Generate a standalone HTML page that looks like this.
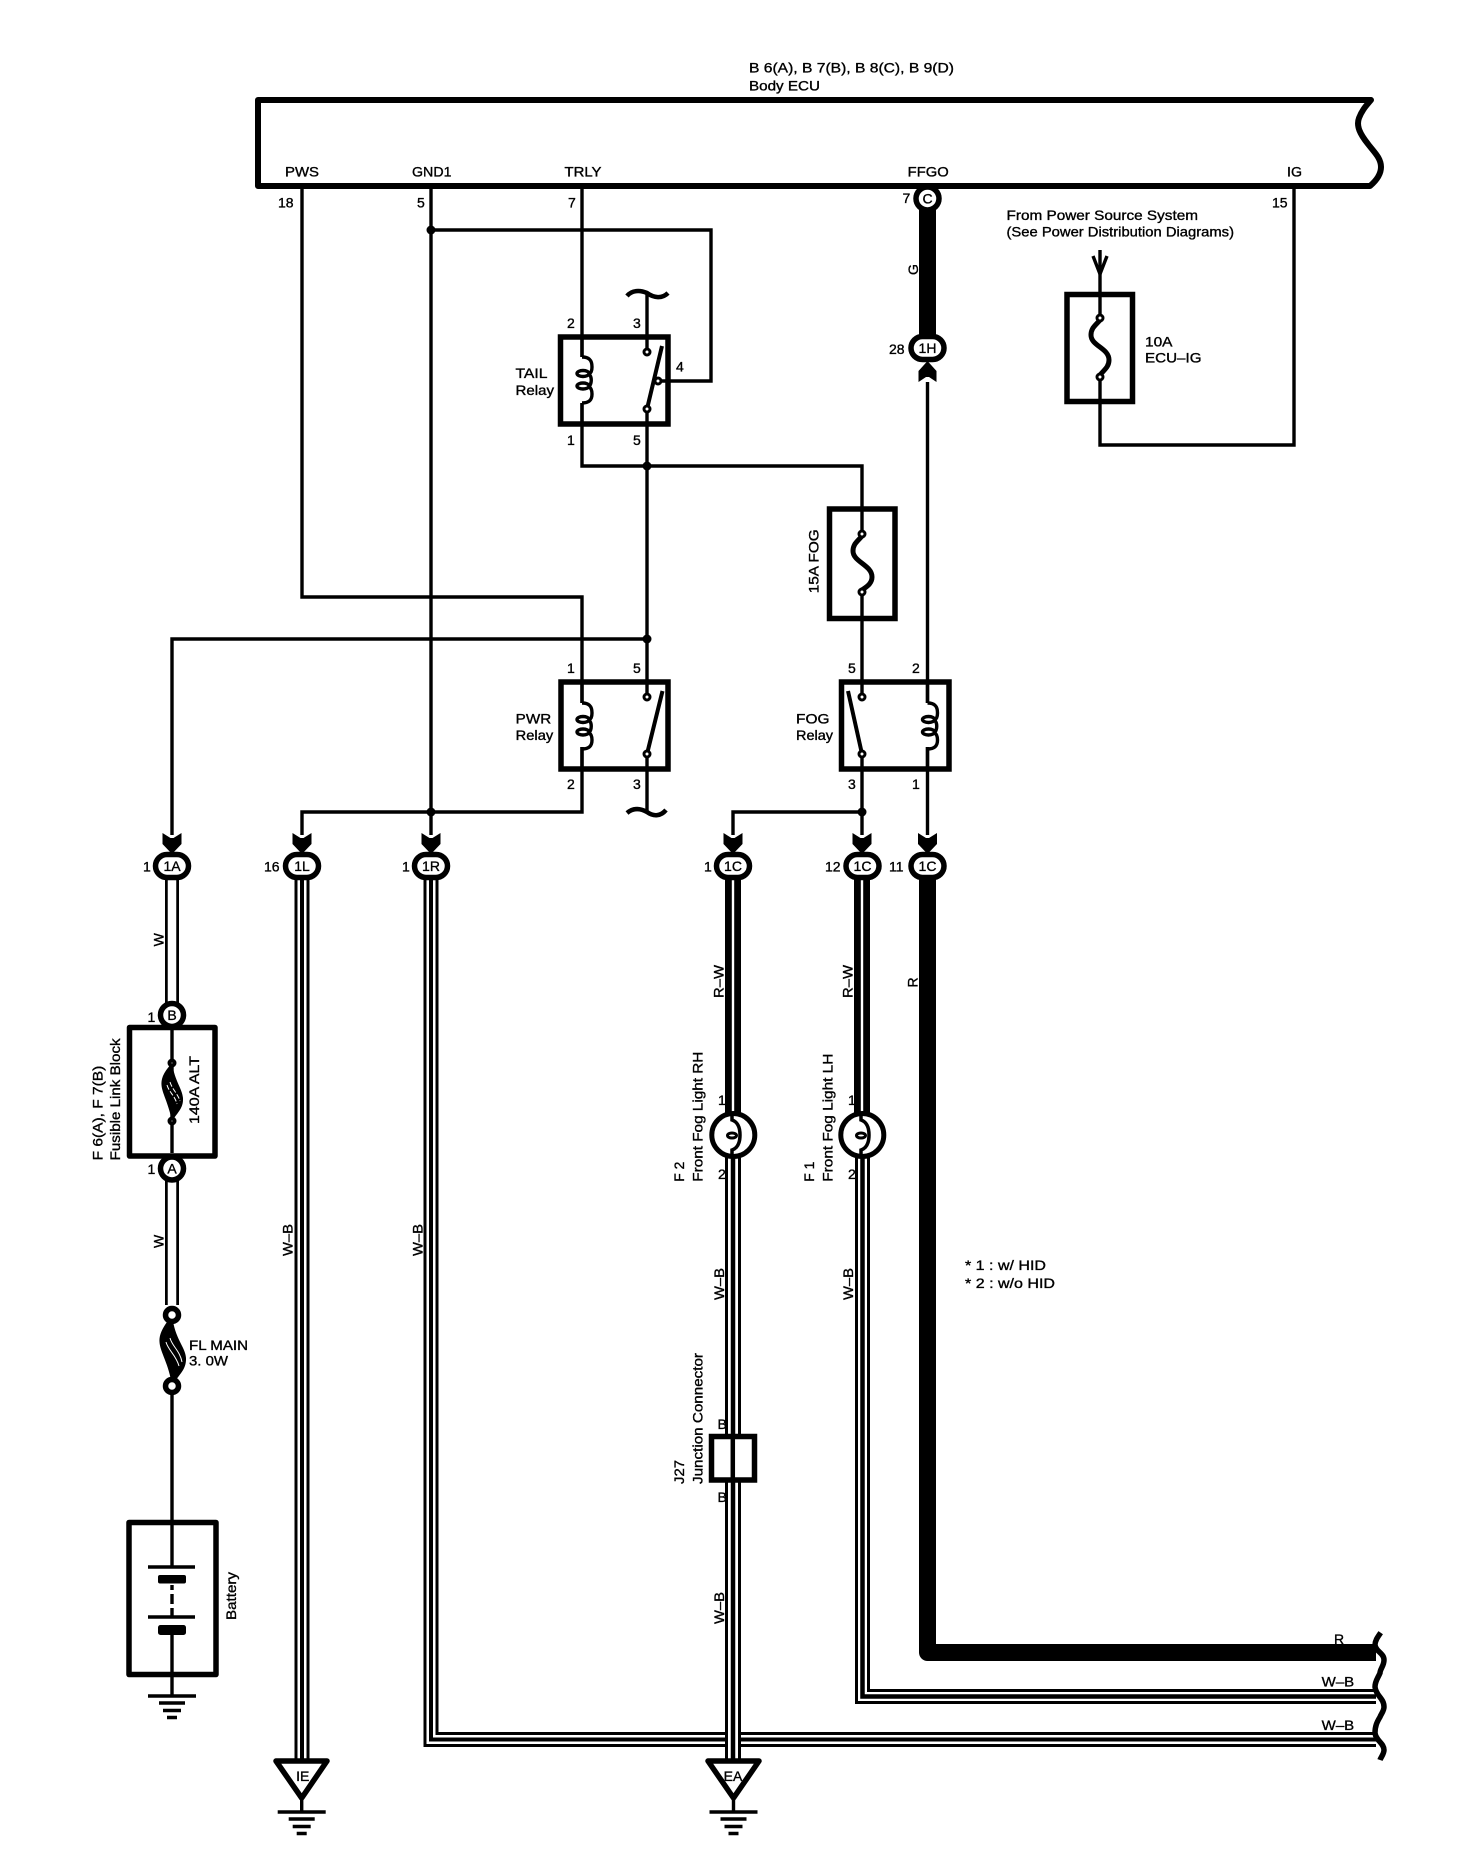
<!DOCTYPE html>
<html><head><meta charset="utf-8"><title>Fog light wiring diagram</title>
<style>
html,body{margin:0;padding:0;background:#fff}
svg{display:block}
text{font-family:"Liberation Sans",Arial,sans-serif;font-size:14px;fill:#000;stroke:#000;stroke-width:.35}
.w{fill:none;stroke:#000;stroke-width:3.4}
.b{fill:#fff;stroke:#000;stroke-width:5.5;stroke-linejoin:round}
</style></head><body>
<svg xmlns="http://www.w3.org/2000/svg" width="1472" height="1862" viewBox="0 0 1472 1862">
<defs>
<g id="coil"><path d="M0 0c8 0 10 4 10 10c0 4-1 6-3 7c3 3 3 9 0 13c2 1 3 3 3 7c0 6-3 9-10 9" fill="none" stroke="#000" stroke-width="3.4"/><ellipse cx="1" cy="16.5" rx="6" ry="3" fill="#fff" stroke="#000" stroke-width="3.4"/><ellipse cx="1" cy="29" rx="6" ry="3" fill="#fff" stroke="#000" stroke-width="3.4"/></g>
<circle id="ct" r="3" fill="#fff" stroke="#000" stroke-width="3"/>
<circle id="jn" r="4.5" fill="#000"/>
<path id="arr" d="M-9.500 -20L-1.500 -15H1.500L9.500 -20V-9L0 1L-9.500 -9Z" fill="#000"/>
<rect id="conn" x="-16.500" y="-11.500" width="33" height="23" rx="11.500" fill="#fff" stroke="#000" stroke-width="5.500"/>
<g id="gnd" stroke="#000" stroke-width="3.5"><path d="M-24 0H24M-13 7H13M-9 14.500H9M-5 21.500H5"/></g>
</defs>

<!-- ECU -->
<path d="M1371 100H258V186H1370C1377 180 1381 174 1381 167C1381 158 1374 152 1368 144C1360 134 1356 126 1359 118C1362 110 1366 106 1371 100Z" fill="#fff" stroke="#000" stroke-width="6" stroke-linejoin="round"/>

<!-- thin wires -->
<path class="w" d="M302 186V597H582V703M582 747V812H302V835"/>
<path class="w" d="M431 186V835"/>
<path class="w" d="M431 230H711V381H659"/>
<path class="w" d="M582 186V357M582 403V466H862V534M862 592V697"/>
<path class="w" d="M647 293V352M647 409V697M647 639H172V835"/>
<path class="w" d="M647 754V812"/>
<path class="w" d="M862 754V835M862 812H733V835"/>
<path class="w" d="M927.500 382V703M927.500 747V835"/>
<path class="w" d="M1100 250V318M1100 377V445H1294V186"/>
<path class="w" d="M1093 256L1100 274L1107 256"/>
<path d="M627 296C632 290 640 290 647 293C654 298 662 299 668 293" fill="none" stroke="#000" stroke-width="4.500"/>
<path d="M627 813C633 808 640 808 647 812C654 817 661 816 666 810" fill="none" stroke="#000" stroke-width="4.500"/>

<!-- relays -->
<rect x="560.500" y="337" width="107.500" height="87" fill="none" stroke="#000" stroke-width="5.500"/>
<rect x="561" y="682" width="107" height="87" fill="none" stroke="#000" stroke-width="5.500"/>
<rect x="841.500" y="682" width="107.500" height="87" fill="none" stroke="#000" stroke-width="5.500"/>
<path class="w" d="M582 337V357M582 403V424M582 682V703M582 747V769M927.500 682V703M927.500 747V769"/>
<use href="#coil" x="582" y="357"/><use href="#coil" x="582" y="703"/><use href="#coil" x="927.500" y="703"/>
<path d="M647 409L662 346M647 754L662.500 691M862 754L848 691" stroke="#000" stroke-width="4" fill="none"/>
<use href="#ct" x="647" y="352"/><use href="#ct" x="647" y="409"/><use href="#ct" x="658" y="381"/>
<use href="#ct" x="647" y="697"/><use href="#ct" x="647" y="754"/>
<use href="#ct" x="862" y="697"/><use href="#ct" x="862" y="754"/>

<!-- junctions -->
<use href="#jn" x="431" y="230"/><use href="#jn" x="647" y="466"/><use href="#jn" x="647" y="639"/>
<use href="#jn" x="431" y="812"/><use href="#jn" x="862" y="812"/>

<!-- fuses -->
<rect x="1067" y="294.500" width="65.500" height="107" fill="none" stroke="#000" stroke-width="5.500"/>
<path d="M1100 320C1095 326 1091 328 1091 335C1091 346 1109 348 1109 360C1109 367 1104 370 1100 375" fill="none" stroke="#000" stroke-width="5"/>
<use href="#ct" x="1100" y="318"/><use href="#ct" x="1100" y="377"/>
<rect x="829.500" y="509" width="65.500" height="109.500" fill="none" stroke="#000" stroke-width="5.500"/>
<path d="M862 536C857 542 853 544 853 551C853 562 872 565 872 577C872 584 866 587 862 590" fill="none" stroke="#000" stroke-width="5"/>
<use href="#ct" x="862" y="534"/><use href="#ct" x="862" y="592"/>

<!-- thick G wire -->
<rect x="919" y="198" width="17" height="150" fill="#000"/>
<path d="M918.500 382V371L927.500 361L936.500 371V382L929 377H926Z" fill="#000"/>

<!-- arrows -->
<use href="#arr" x="172" y="853"/><use href="#arr" x="302" y="853"/><use href="#arr" x="431" y="853"/>
<use href="#arr" x="733" y="853"/><use href="#arr" x="862" y="853"/><use href="#arr" x="927.500" y="853"/>

<!-- labels sitting behind wires -->
<text x="718" y="1105">1</text><text x="718" y="1179">2</text>
<text x="848" y="1105">1</text><text x="848" y="1179">2</text>
<text x="717.500" y="1429">B</text><text x="717.500" y="1502">B</text>

<!-- white wire W -->
<path d="M172 875V1305" stroke="#000" stroke-width="14" fill="none"/>
<path d="M172 875V1305" stroke="#fff" stroke-width="8.500" fill="none"/>
<rect x="129.500" y="1027.500" width="85.500" height="128.500" class="b"/>
<path d="M172 1030V1153" class="w"/>
<path d="M172 1063C166 1070 161 1076 161.500 1085C162 1093 168 1102 172 1121C178 1112 183.500 1108 183 1098C182 1088 175 1082 172 1063Z" fill="#000"/>
<path d="M167 1085C169 1092 175 1096 177 1104" fill="none" stroke="#fff" stroke-width="1" stroke-dasharray="5 2"/>
<path d="M170 1082C172 1089 178 1094 180 1101" fill="none" stroke="#fff" stroke-width="1" stroke-dasharray="5 2"/>
<circle cx="172" cy="1063" r="2.500" fill="#fff" stroke="#000" stroke-width="4"/>
<circle cx="172" cy="1121" r="2.500" fill="#fff" stroke="#000" stroke-width="4"/>
<circle cx="172" cy="1015" r="11.500" fill="#fff" stroke="#000" stroke-width="5.500"/>
<circle cx="172" cy="1168.500" r="11.500" fill="#fff" stroke="#000" stroke-width="5.500"/>

<!-- FL main -->
<path d="M172 1315C165 1325 159 1332 159.500 1342C160 1352 169 1364 172 1386C179 1374 186.500 1370 186 1358C185 1346 175 1340 172 1315Z" fill="#000"/>
<path d="M166 1342C168 1350 176 1355 179 1366" fill="none" stroke="#fff" stroke-width="1"/>
<path d="M170 1338C172 1346 180 1351 182 1362" fill="none" stroke="#fff" stroke-width="1"/>
<circle cx="172" cy="1315" r="6.500" fill="#fff" stroke="#000" stroke-width="5.500"/>
<circle cx="172" cy="1386" r="6.500" fill="#fff" stroke="#000" stroke-width="5.500"/>
<path class="w" d="M172 1394V1567M172 1635V1696"/>

<!-- Battery -->
<rect x="129" y="1522.500" width="87" height="152" fill="none" stroke="#000" stroke-width="5.500" stroke-linejoin="round"/>
<path d="M148 1567H195M148 1617H195" stroke="#000" stroke-width="3.500"/>
<rect x="158" y="1575" width="28" height="8.500" rx="2" fill="#000"/>
<rect x="158" y="1625" width="28" height="10" rx="2.500" fill="#000"/>
<path d="M172 1585V1590M172 1594V1604M172 1608V1617" stroke="#000" stroke-width="3.400"/>
<use href="#gnd" x="172" y="1696"/>

<!-- triple wire 1L -->
<path d="M302 875V1760" stroke="#000" stroke-width="15" fill="none"/>
<path d="M302 875V1760" stroke="#fff" stroke-width="9" fill="none"/>
<path d="M302 875V1760" stroke="#000" stroke-width="4" fill="none"/>

<!-- triple wire 1R to right -->
<path d="M431 875V1739.500H1376" stroke="#000" stroke-width="15" fill="none"/>
<path d="M431 875V1739.500H1376" stroke="#fff" stroke-width="9" fill="none"/>
<path d="M431 875V1739.500H1376" stroke="#000" stroke-width="4" fill="none"/>

<!-- R-W and W-B -->
<rect x="725" y="875" width="16" height="240" fill="#000"/><rect x="731.800" y="875" width="2.400" height="240" fill="#fff"/>
<rect x="854" y="875" width="16" height="240" fill="#000"/><rect x="860.800" y="875" width="2.400" height="240" fill="#fff"/>

<path d="M733 1150V1760" stroke="#000" stroke-width="16" fill="none"/>
<path d="M733 1150V1760" stroke="#fff" stroke-width="10" fill="none"/>
<path d="M733 1150V1760" stroke="#000" stroke-width="4.500" fill="none"/>

<path d="M862.500 1150V1696.500H1376" stroke="#000" stroke-width="15" fill="none"/>
<path d="M862.500 1150V1696.500H1376" stroke="#fff" stroke-width="9" fill="none"/>
<path d="M862.500 1150V1696.500H1376" stroke="#000" stroke-width="4.500" fill="none"/>

<!-- thick R -->
<path d="M927.500 866V1652.500H1376" stroke="#000" stroke-width="17" fill="none" stroke-linejoin="round"/>

<!-- lamps -->
<g fill="#fff" stroke="#000" stroke-width="5">
<circle cx="733.300" cy="1135" r="21.500"/><circle cx="862.300" cy="1135" r="21.500"/></g>
<path d="M732 1113V1120C738 1122 740 1128 740 1135C740 1142 738 1148 732 1150V1157" fill="none" stroke="#000" stroke-width="3.500"/>
<path d="M861 1113V1120C867 1122 869 1128 869 1135C869 1142 867 1148 861 1150V1157" fill="none" stroke="#000" stroke-width="3.500"/>
<ellipse cx="732" cy="1135.500" rx="4.500" ry="2.500" fill="#fff" stroke="#000" stroke-width="3"/>
<ellipse cx="861" cy="1135.500" rx="4.500" ry="2.500" fill="#fff" stroke="#000" stroke-width="3"/>

<!-- J27 -->
<rect x="711.500" y="1436.500" width="43" height="43.500" fill="#fff" stroke="#000" stroke-width="5.500"/>
<path d="M732.800 1436V1481" stroke="#000" stroke-width="4.500"/>

<!-- ground triangles -->
<path d="M276 1761H327L301.700 1798Z" fill="#fff" stroke="#000" stroke-width="5.500" stroke-linejoin="round"/>
<path d="M301.700 1798V1812" stroke="#000" stroke-width="3.400"/>
<use href="#gnd" x="301.700" y="1812"/>
<path d="M708 1761H759L733.500 1798Z" fill="#fff" stroke="#000" stroke-width="5.500" stroke-linejoin="round"/>
<path d="M733.500 1798V1812" stroke="#000" stroke-width="3.400"/>
<use href="#gnd" x="733.500" y="1812"/>

<!-- right break -->
<path d="M1380.700 1632.700C1377 1638 1375 1641 1375 1645C1376 1652 1384 1653 1384 1660C1384 1666 1380 1669 1380 1673C1378 1678 1375 1681 1375 1687C1376 1696 1384 1698 1384 1707C1384 1711 1381 1714 1380 1717C1377 1722 1375 1726 1375 1733C1376 1741 1384 1743 1384 1750C1384 1754 1381 1757 1380 1760" fill="none" stroke="#000" stroke-width="5.500"/>

<!-- connector symbols -->
<use href="#conn" x="172" y="866"/><use href="#conn" x="302" y="866"/><use href="#conn" x="431" y="866"/>
<use href="#conn" x="733" y="866"/><use href="#conn" x="862.500" y="866"/><use href="#conn" x="927.500" y="866"/>
<use href="#conn" x="927.500" y="348"/>
<circle cx="927.500" cy="198.500" r="11.500" fill="#fff" stroke="#000" stroke-width="5.500"/>

<!-- TEXT -->
<text x="749" y="72.700" textLength="205" lengthAdjust="spacingAndGlyphs">B 6(A), B 7(B), B 8(C), B 9(D)</text>
<text x="749" y="90.700" textLength="71" lengthAdjust="spacingAndGlyphs">Body ECU</text>
<text x="285" y="176.700" textLength="34" lengthAdjust="spacingAndGlyphs">PWS</text>
<text x="412" y="176.700" textLength="39.500" lengthAdjust="spacingAndGlyphs">GND1</text>
<text x="564.500" y="176.700" textLength="37" lengthAdjust="spacingAndGlyphs">TRLY</text>
<text x="907.700" y="176.700" textLength="41" lengthAdjust="spacingAndGlyphs">FFGO</text>
<text x="1287" y="176.700" textLength="15" lengthAdjust="spacingAndGlyphs">IG</text>
<text x="278" y="207.700">18</text><text x="417" y="207.700">5</text><text x="568" y="207.700">7</text>
<text x="902.500" y="203">7</text><text x="1272" y="207.700">15</text>
<text x="1006.500" y="220" textLength="191.500" lengthAdjust="spacingAndGlyphs">From Power Source System</text>
<text x="1006.500" y="236.700" textLength="227.500" lengthAdjust="spacingAndGlyphs">(See Power Distribution Diagrams)</text>
<text x="1145" y="346.700" textLength="27.500" lengthAdjust="spacingAndGlyphs">10A</text>
<text x="1145" y="362.700" textLength="56.500" lengthAdjust="spacingAndGlyphs">ECU–IG</text>
<text x="889" y="354">28</text>
<text text-anchor="middle" x="927.500" y="203.500">C</text>
<text text-anchor="middle" x="927.500" y="353">1H</text>

<text x="567" y="328">2</text><text x="633" y="328">3</text><text x="676" y="371.700">4</text>
<text x="567" y="445">1</text><text x="633" y="445">5</text>
<text x="515.500" y="378" textLength="32" lengthAdjust="spacingAndGlyphs">TAIL</text>
<text x="515.500" y="395" textLength="38.500" lengthAdjust="spacingAndGlyphs">Relay</text>

<text x="567" y="673">1</text><text x="633" y="673">5</text><text x="567" y="789">2</text><text x="633" y="789">3</text>
<text x="515.700" y="723.300" textLength="35.500" lengthAdjust="spacingAndGlyphs">PWR</text>
<text x="515.700" y="740" textLength="37.500" lengthAdjust="spacingAndGlyphs">Relay</text>
<text x="848" y="673">5</text><text x="912" y="673">2</text><text x="848" y="789">3</text><text x="912" y="789">1</text>
<text x="796" y="723.300" textLength="33.500" lengthAdjust="spacingAndGlyphs">FOG</text>
<text x="796" y="740" textLength="37" lengthAdjust="spacingAndGlyphs">Relay</text>

<text transform="translate(818.300 593.300) rotate(-90)" textLength="64" lengthAdjust="spacingAndGlyphs">15A FOG</text>
<text transform="translate(918 275) rotate(-90)">G</text>

<text x="143" y="871.400">1</text><text x="264" y="871.400">16</text><text x="402" y="871.400">1</text>
<text x="704" y="871.400">1</text><text x="825" y="871.400">12</text><text x="889" y="871.400">11</text>
<text text-anchor="middle" x="172" y="871">1A</text>
<text text-anchor="middle" x="302" y="871">1L</text>
<text text-anchor="middle" x="431" y="871">1R</text>
<text text-anchor="middle" x="733" y="871">1C</text>
<text text-anchor="middle" x="862.500" y="871">1C</text>
<text text-anchor="middle" x="927.500" y="871">1C</text>

<text x="147.500" y="1022">1</text><text x="147.500" y="1174">1</text>
<text text-anchor="middle" x="172" y="1020">B</text>
<text text-anchor="middle" x="172" y="1173.500">A</text>
<text transform="translate(163.300 946.400) rotate(-90)">W</text>
<text transform="translate(163.300 1248) rotate(-90)">W</text>
<text transform="translate(102.700 1160.400) rotate(-90)" textLength="94.700" lengthAdjust="spacingAndGlyphs">F 6(A), F 7(B)</text>
<text transform="translate(120 1160.400) rotate(-90)" textLength="122" lengthAdjust="spacingAndGlyphs">Fusible Link Block</text>
<text transform="translate(199 1124) rotate(-90)" textLength="68" lengthAdjust="spacingAndGlyphs">140A ALT</text>
<text x="189" y="1350" textLength="59" lengthAdjust="spacingAndGlyphs">FL MAIN</text>
<text x="189" y="1365.700" textLength="39" lengthAdjust="spacingAndGlyphs">3. 0W</text>
<text transform="translate(236 1620) rotate(-90)" textLength="48" lengthAdjust="spacingAndGlyphs">Battery</text>

<text transform="translate(292.700 1256) rotate(-90)" textLength="32" lengthAdjust="spacingAndGlyphs">W–B</text>
<text transform="translate(422.300 1256) rotate(-90)" textLength="32" lengthAdjust="spacingAndGlyphs">W–B</text>
<text transform="translate(723.500 998) rotate(-90)" textLength="33" lengthAdjust="spacingAndGlyphs">R–W</text>
<text transform="translate(852.700 998) rotate(-90)" textLength="33" lengthAdjust="spacingAndGlyphs">R–W</text>
<text transform="translate(917.700 987.500) rotate(-90)">R</text>
<text transform="translate(702.700 1181.700) rotate(-90)" textLength="130" lengthAdjust="spacingAndGlyphs">Front Fog Light RH</text>
<text transform="translate(684 1181.700) rotate(-90)" textLength="20" lengthAdjust="spacingAndGlyphs">F 2</text>
<text transform="translate(832.700 1181.700) rotate(-90)" textLength="128" lengthAdjust="spacingAndGlyphs">Front Fog Light LH</text>
<text transform="translate(814 1181.700) rotate(-90)" textLength="20" lengthAdjust="spacingAndGlyphs">F 1</text>
<text transform="translate(724 1300) rotate(-90)" textLength="32" lengthAdjust="spacingAndGlyphs">W–B</text>
<text transform="translate(853 1300) rotate(-90)" textLength="32" lengthAdjust="spacingAndGlyphs">W–B</text>
<text transform="translate(724 1624) rotate(-90)" textLength="32" lengthAdjust="spacingAndGlyphs">W–B</text>
<text transform="translate(684 1484) rotate(-90)" textLength="24" lengthAdjust="spacingAndGlyphs">J27</text>
<text transform="translate(702.700 1484) rotate(-90)" textLength="131" lengthAdjust="spacingAndGlyphs">Junction Connector</text>
<text x="965" y="1270" textLength="81" lengthAdjust="spacingAndGlyphs">* 1 : w/ HID</text>
<text x="965" y="1288" textLength="90" lengthAdjust="spacingAndGlyphs">* 2 : w/o HID</text>
<text x="1334" y="1644">R</text>
<text x="1321.700" y="1686.700" textLength="32.500" lengthAdjust="spacingAndGlyphs">W–B</text>
<text x="1321.700" y="1730" textLength="32.500" lengthAdjust="spacingAndGlyphs">W–B</text>
<text text-anchor="middle" x="302.700" y="1781">IE</text>
<text text-anchor="middle" x="733" y="1781">EA</text>
</svg>
</body></html>
